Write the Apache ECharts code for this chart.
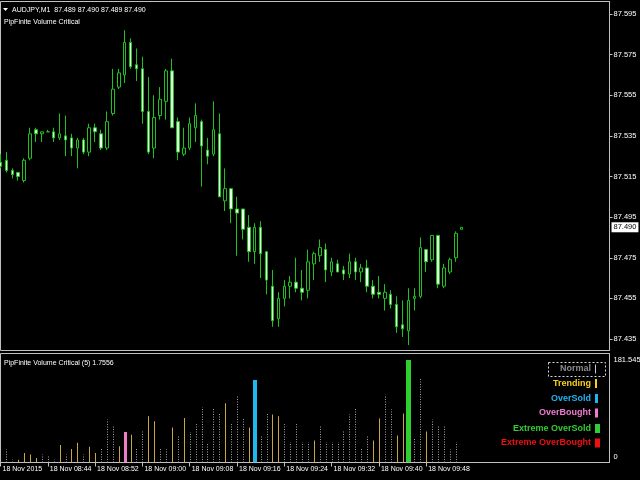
<!DOCTYPE html>
<html>
<head>
<meta charset="utf-8">
<script src="https://cdn.jsdelivr.net/npm/echarts@6.0.0/dist/echarts.min.js"></script>
<style>
html,body{margin:0;padding:0;background:#000;overflow:hidden;}
#chart{width:640px;height:480px;}
</style>
</head>
<body>
<div id="chart"></div>
<script>
// ---------------- data ----------------
const symbolName = 'AUDJPY,M1';
const panelName = 'PipFinite Volume Critical';
const indicatorName = 'PipFinite Volume Critical (5) 1.7556';
const firstBarMinute = 8 * 60 + 36;   // 08:36
const slotCount = 104;                 // visible bar slots on the time axis

const opens = [
87.522,87.523,87.518,87.517,87.513,87.524,87.538,87.536,87.537,87.537,
87.534,87.535,87.534,87.529,87.533,87.527,87.539,87.536,87.529,87.546,
87.559,87.565,87.581,87.570,87.568,87.547,87.529,87.545,87.552,87.567,
87.542,87.526,87.529,87.539,87.542,87.528,87.526,87.536,87.503,87.509,
87.499,87.499,87.490,87.478,87.490,87.478,87.461,87.445,87.455,87.461,
87.463,87.460,87.459,87.472,87.476,87.479,87.468,87.472,87.469,87.467,
87.473,87.468,87.470,87.461,87.458,87.455,87.457,87.452,87.442,87.439,
87.455,87.456,87.479,87.474,87.486,87.461,87.468,87.475,87.489];
const closes = [
87.520,87.518,87.516,87.515,87.523,87.536,87.536,87.537,87.537,87.534,
87.536,87.533,87.529,87.533,87.527,87.539,87.537,87.529,87.542,87.558,
87.566,87.581,87.569,87.568,87.547,87.527,87.544,87.553,87.567,87.539,
87.527,87.529,87.541,87.545,87.530,87.525,87.538,87.505,87.509,87.499,
87.497,87.489,87.478,87.490,87.477,87.464,87.444,87.455,87.461,87.463,
87.460,87.458,87.473,87.477,87.480,87.469,87.473,87.468,87.467,87.473,
87.468,87.470,87.461,87.457,87.457,87.458,87.452,87.441,87.440,87.454,
87.456,87.480,87.473,87.486,87.462,87.470,87.474,87.487,87.490];
const lows = [
87.519,87.517,87.514,87.513,87.512,87.523,87.532,87.532,87.537,87.532,
87.533,87.525,87.525,87.519,87.526,87.525,87.532,87.528,87.528,87.545,
87.558,87.561,87.568,87.562,87.541,87.526,87.524,87.543,87.543,87.539,
87.523,87.525,87.528,87.532,87.510,87.521,87.525,87.505,87.498,87.492,
87.476,87.484,87.473,87.472,87.465,87.457,87.441,87.441,87.451,87.455,
87.458,87.454,87.455,87.464,87.473,87.463,87.466,87.468,87.464,87.465,
87.464,87.463,87.458,87.455,87.455,87.449,87.450,87.438,87.436,87.432,
87.449,87.455,87.468,87.473,87.460,87.460,87.467,87.473,87.489];
const highs = [
87.526,87.527,87.519,87.517,87.524,87.539,87.539,87.537,87.538,87.539,
87.546,87.545,87.536,87.534,87.534,87.541,87.541,87.538,87.547,87.568,
87.568,87.587,87.583,87.578,87.574,87.564,87.555,87.559,87.568,87.573,
87.544,87.539,87.544,87.551,87.543,87.534,87.552,87.546,87.519,87.509,
87.505,87.499,87.496,87.492,87.493,87.478,87.469,87.458,87.464,87.466,
87.475,87.469,87.479,87.478,87.484,87.482,87.475,87.474,87.471,87.477,
87.475,87.472,87.474,87.464,87.466,87.462,87.459,87.456,87.454,87.460,
87.460,87.485,87.479,87.486,87.486,87.472,87.475,87.488,87.490];

// volume indicator: value and class per bar
const volValues = [
null,23,5,5,17,14,8,14,11,5,
31,14,24,35,14,28,17,24,76,64,
29,54,49,24,57,82,73,24,23,62,
46,79,54,68,98,34,95,88,105,68,
118,78,62,146,46,88,85,82,68,36,
68,36,36,39,66,36,36,36,57,85,
95,24,46,39,78,120,94,48,87,181.5,
42,148,55,76,64,64,23,36,null];
const volTypes = [
'', 'N','N','T','T','T','T','N','N','N',
'T','N','T','T','N','T','T','N','N','N',
'T','OB','T','N','N','T','T','N','N','T',
'N','T','N','N','N','N','N','N','T','N',
'N','N','T','OS','N','N','T','T','N','N',
'N','N','N','T','N','N','N','N','N','N',
'N','N','N','T','T','N','N','T','T','EOS',
'N','N','T','N','N','N','N','N',''];

const priceTicks = [87.435,87.455,87.475,87.495,87.515,87.535,87.555,87.575,87.595];
const volTicks = [0, 181.545];
const xTickLabels = ['18 Nov 2015','18 Nov 08:44','18 Nov 08:52','18 Nov 09:00','18 Nov 09:08',
  '18 Nov 09:16','18 Nov 09:24','18 Nov 09:32','18 Nov 09:40','18 Nov 09:48'];
const legendNames = ['Normal','Trending','OverSold','OverBought','Extreme OverSold','Extreme OverBought'];
const typeCodes = ['N','T','OS','OB','EOS','EOB'];

// ---------------- styles ----------------
const FONT = "'Liberation Sans', Arial, sans-serif";
const GREEN = '#1fc01f';
const FRAME = '#c0c0c0';
const FS = 7.5;
const typeStyle = {
  N:   {bar: '#a0a0a0', w: 1, text: '#8c8c8c', mk: '#c8c8c8', mw: 1},
  T:   {bar: '#c8a640', w: 1, text: '#f5d21e', mk: '#f5d21e', mw: 2},
  OS:  {bar: '#1eb8ec', w: 4, text: '#1eb4f0', mk: '#1eb4f0', mw: 3},
  OB:  {bar: '#f07cc8', w: 3, text: '#f07ad2', mk: '#f07ad2', mw: 3},
  EOS: {bar: '#2ed02e', w: 5, text: '#32cd32', mk: '#32cd32', mw: 5},
  EOB: {bar: '#f01010', w: 5, text: '#f01010', mk: '#f01010', mw: 5}
};

// ---------------- build ----------------
const categories = [];
for (let k = 0; k < slotCount; k++) {
  const m = firstBarMinute + k;
  categories.push(String(Math.floor(m / 60)).padStart(2, '0') + ':' + String(m % 60).padStart(2, '0'));
}
const candleData = opens.map((o, i) => [o, closes[i], lows[i], highs[i]]);
const volData = [];
volValues.forEach((v, i) => {
  if (v != null && volTypes[i]) volData.push([i, v, typeCodes.indexOf(volTypes[i])]);
});
const lastIdx = opens.length - 1;
const header = symbolName + '  ' + [opens[lastIdx], highs[lastIdx], lows[lastIdx], closes[lastIdx]]
  .map(v => v.toFixed(3)).join(' ');

function isLabelIdx(idx) { return idx % 8 === 0 && idx / 8 < xTickLabels.length; }

function renderVol(params, api) {
  const idx = api.value(0), val = api.value(1), code = typeCodes[api.value(2)];
  const st = typeStyle[code];
  const top = api.coord([idx, val]);
  const base = api.coord([idx, 0]);
  const xc = Math.round(top[0]);
  if (code === 'N') {
    return {type: 'line', shape: {x1: xc + 0.5, y1: base[1], x2: xc + 0.5, y2: top[1]},
      style: {stroke: st.bar, lineWidth: 1, lineDash: [1, 1.5]}};
  }
  return {type: 'rect', shape: {x: xc - Math.floor(st.w / 2), y: top[1], width: st.w, height: base[1] - top[1]},
    style: {fill: st.bar}};
}

const legendY = [369, 383.5, 398.5, 413, 428.5, 443];
const legendGraphics = [];
legendNames.forEach((name, k) => {
  const st = typeStyle[typeCodes[k]];
  legendGraphics.push({type: 'text', x: 591, y: legendY[k],
    style: {text: name, fill: st.text, font: 'bold 9px ' + FONT, align: 'right', verticalAlign: 'middle'}});
  legendGraphics.push({type: 'rect', shape: {x: 595, y: legendY[k] - 4.5, width: st.mw, height: 9},
    style: {fill: st.mk}});
});
legendGraphics.push({type: 'rect', shape: {x: 548.5, y: 362.5, width: 57, height: 14},
  style: {fill: 'none', stroke: '#d8d8d8', lineWidth: 1, lineDash: [2, 2]}});

const chart = echarts.init(document.getElementById('chart'), null, {renderer: 'canvas'});
chart.setOption({
  backgroundColor: '#000',
  animation: false,
  grid: [
    {left: 0.5, top: 1.5, width: 609, height: 349, show: true, borderColor: FRAME, borderWidth: 1,
     backgroundColor: 'transparent', outerBoundsMode: 'none', containLabel: false},
    {left: 0.5, top: 353.5, width: 609, height: 109, show: true, borderColor: FRAME, borderWidth: 1,
     backgroundColor: 'transparent', outerBoundsMode: 'none', containLabel: false}
  ],
  xAxis: [
    {type: 'category', gridIndex: 0, data: categories, boundaryGap: false,
     axisLine: {show: false}, axisTick: {show: false}, axisLabel: {show: false}, splitLine: {show: false}},
    {type: 'category', gridIndex: 1, data: categories, boundaryGap: false, position: 'bottom',
     axisLine: {show: true, lineStyle: {color: FRAME}},
     axisTick: {show: true, length: 4, interval: (idx) => isLabelIdx(idx), lineStyle: {color: FRAME}},
     axisLabel: {show: true, interval: (idx) => isLabelIdx(idx), align: 'left', margin: 3,
       padding: [0, 0, 0, 2], color: '#ffffff', fontSize: 7, fontFamily: FONT,
       formatter: (v, idx) => xTickLabels[idx / 8] || ''},
     splitLine: {show: false}}
  ],
  yAxis: [
    {type: 'value', gridIndex: 0, position: 'right', min: 87.42934, max: 87.60115, scale: true,
     axisLine: {show: true, lineStyle: {color: FRAME}},
     axisTick: {show: true, length: 3, customValues: priceTicks, lineStyle: {color: FRAME}},
     axisLabel: {show: true, customValues: priceTicks, margin: 4, color: '#ffffff', fontSize: FS,
       fontFamily: FONT, formatter: v => v.toFixed(3)},
     splitLine: {show: false}},
    {type: 'value', gridIndex: 1, position: 'right', min: 0, max: 193.06,
     axisLine: {show: true, lineStyle: {color: FRAME}},
     axisTick: {show: false},
     axisLabel: {show: true, customValues: volTicks, margin: 4, color: '#ffffff', fontSize: FS,
       fontFamily: FONT, formatter: v => v === 0 ? '{z|0}' : v.toFixed(3),
       rich: {z: {color: '#ffffff', fontSize: FS, fontFamily: FONT, padding: [0, 0, 11, 0]}}},
     splitLine: {show: false}}
  ],
  series: [
    {type: 'candlestick', xAxisIndex: 0, yAxisIndex: 0, data: candleData, barWidth: 3,
     itemStyle: {color: '#000000', color0: '#e8ffe8', borderColor: GREEN, borderColor0: GREEN,
       borderColorDoji: GREEN, borderWidth: 1},
     markLine: {silent: true, symbol: ['none', 'none'], animation: false, clip: false,
       lineStyle: {color: 'rgba(0,0,0,0)', width: 1, type: 'solid'},
       emphasis: {disabled: true},
       label: {show: true, position: 'end', distance: 2, formatter: () => closes[lastIdx].toFixed(3),
         backgroundColor: '#ffffff', color: '#000000', fontSize: FS, fontFamily: FONT,
         padding: [1, 2, 1, 2], opacity: 1},
       data: [{yAxis: closes[lastIdx]}]}},
    {type: 'custom', name: 'Volume', xAxisIndex: 1, yAxisIndex: 1, data: volData,
     renderItem: renderVol, clip: true}
  ],
  graphic: [
    {type: 'polygon', shape: {points: [[3, 8], [8, 8], [5.5, 11]]}, style: {fill: '#ffffff'}},
    {type: 'text', x: 12, y: 10, style: {text: header, fill: '#ffffff', font: '7px ' + FONT,
      verticalAlign: 'middle'}},
    {type: 'text', x: 4, y: 22.5, style: {text: panelName, fill: '#ffffff', font: '7px ' + FONT,
      verticalAlign: 'middle'}},
    {type: 'text', x: 4, y: 363, style: {text: indicatorName, fill: '#ffffff', font: '7px ' + FONT,
      verticalAlign: 'middle'}}
  ].concat(legendGraphics)
});
</script>
</body>
</html>
